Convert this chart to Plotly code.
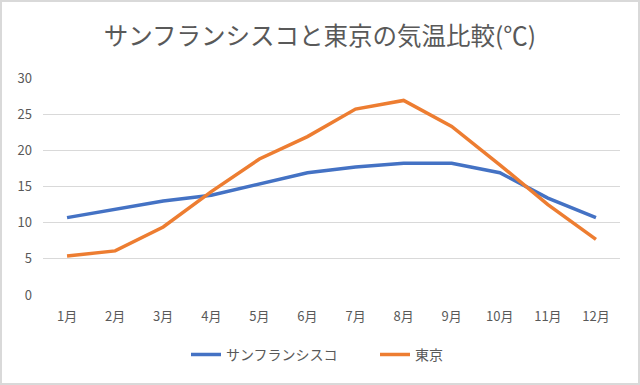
import plotly.graph_objects as go

months = ["1月", "2月", "3月", "4月", "5月", "6月", "7月", "8月", "9月", "10月", "11月", "12月"]
sf = [10.7, 11.8, 13.0, 13.8, 15.3, 16.9, 17.7, 18.2, 18.2, 16.9, 13.4, 10.7]
tokyo = [5.4, 6.1, 9.4, 14.3, 18.8, 21.9, 25.7, 26.9, 23.3, 18.0, 12.5, 7.7]
yticks = [0, 5, 10, 15, 20, 25, 30]

FONT = "Noto Sans CJK JP"
GREY = "#595959"

fig = go.Figure()
fig.add_trace(go.Scatter(x=months, y=sf, mode="lines", name="サンフランシスコ",
                         line=dict(color="#4472C4", width=3.5)))
fig.add_trace(go.Scatter(x=months, y=tokyo, mode="lines", name="東京",
                         line=dict(color="#ED7D31", width=3.5)))

fig.update_layout(
    width=640, height=385,
    margin=dict(l=43, r=20, t=78, b=90),
    paper_bgcolor="white", plot_bgcolor="white",
    font=dict(family=FONT, color=GREY, size=13),
    title=dict(text="サンフランシスコと東京の気温比較(℃)", x=0.5, xanchor="center",
               y=0.905, yanchor="middle", font=dict(size=24.5, color=GREY, family=FONT)),
    xaxis=dict(type="category", range=[-0.5, 11.5], showgrid=False, showline=False,
               zeroline=False, ticks="", tickfont=dict(size=13, color=GREY),
               ticklabelstandoff=12, automargin=False),
    yaxis=dict(range=[0, 30], tickvals=yticks, showgrid=True, gridcolor="#d9d9d9",
               gridwidth=1, zeroline=False, showline=False, ticks="",
               tickfont=dict(size=13, color=GREY), ticklabelstandoff=10, automargin=False),
    legend=dict(orientation="h", x=(186 - 43) / 577, xanchor="left", y=-0.276, yanchor="middle",
                font=dict(size=14, color=GREY), itemwidth=30, traceorder="normal",
                entrywidth=144),
    showlegend=True,
    shapes=[dict(type="rect", xref="paper", yref="paper", x0=-42/577, x1=1+19/577,
                 y0=-89/217, y1=1+77/217, line=dict(color="#d9d9d9", width=2))],
)

fig.write_html("out.html", config={"displayModeBar": False},
               post_script="document.body.style.margin='0';")
